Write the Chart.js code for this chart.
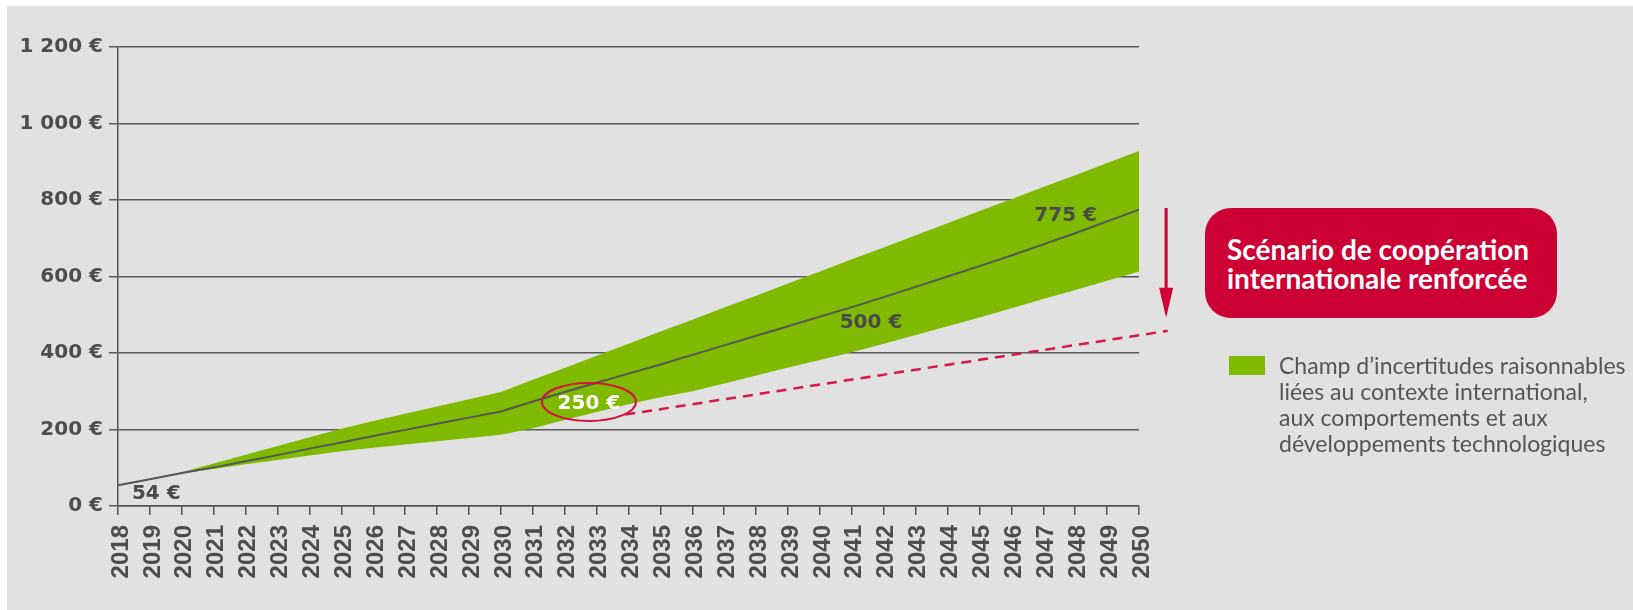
<!DOCTYPE html>
<html lang="fr">
<head>
<meta charset="utf-8">
<title>Valeur de l'action pour le climat</title>
<script src="https://cdn.jsdelivr.net/npm/chart.js@4.4.1/dist/chart.umd.min.js"></script>
<style>
  html, body { margin: 0; padding: 0; background: #ffffff; }
  #wrap { position: relative; width: 1633px; height: 610px; overflow: hidden; }
  #chart { position: absolute; left: 0; top: 0; }
  .box {
    position: absolute; left: 1205px; top: 208px; width: 352px; height: 110px;
    background: #cc0033; border-radius: 26px; box-sizing: border-box;
    padding: 27px 0 0 22px; color: #fff; font-family: Lato, "Open Sans", sans-serif;
    font-weight: bold; font-size: 28px; line-height: 29px;
  }
  .legend { position: absolute; left: 1229px; top: 352px; font-family: Lato, "Open Sans", sans-serif; }
  .legend .sw { position: absolute; left: 0; top: 4px; width: 36px; height: 19px; background: #7fba00; }
  .legend .txt { position: absolute; left: 50px; top: 0; width: 420px; color: #555; font-size: 23px; line-height: 26px; }
</style>
</head>
<body>
<div id="wrap">
  <canvas id="chart" width="1633" height="610"></canvas>
  <div class="box">Scénario de coopération<br>internationale renforcée</div>
  <div class="legend">
    <div class="sw"></div>
    <div class="txt">Champ d’incertitudes raisonnables<br>liées au contexte international,<br>aux comportements et aux<br>développements technologiques</div>
  </div>
</div>
<script>
// Années et valeurs (€ / tCO2)
const annees = [2018, 2019, 2020, 2021, 2022, 2023, 2024, 2025, 2026, 2027, 2028,
  2029, 2030, 2031, 2032, 2033, 2034, 2035, 2036, 2037, 2038, 2039, 2040, 2041,
  2042, 2043, 2044, 2045, 2046, 2047, 2048, 2049, 2050];
const valeurCentrale = [54, 70, 86, 101, 117, 133, 150, 166, 183, 199, 215,
  231, 247, 273, 298, 322, 346, 370, 395, 420, 445, 470, 495, 520,
  546, 573, 600, 627, 655, 684, 713, 744, 775];
// bande d'incertitude (à partir de 2020)
const anneesBande = annees.slice(2);
const bandeHaute = [88, 111, 134, 157, 180, 202, 222, 241, 260, 279, 298,
  330, 361, 393, 424, 456, 487, 519, 550, 582, 613, 645, 676, 708, 739,
  771, 802, 834, 865, 897, 928];
const bandeBasse = [85, 97, 109, 120, 132, 143, 152, 161, 169, 178, 186,
  203, 225, 246, 266, 284, 300, 320, 341, 362, 382, 402, 424, 447, 470,
  493, 517, 541, 565, 589, 613];
// scénario coopération renforcée (tirets)
const anneesCoop = [2033.9, 2050.9];
const valeursCoop = [239, 458];
const ticksY = [0, 200, 400, 600, 800, 1000, 1200];

const etiquettes = [
  { x: 2019.2, y: 31, text: '54 €' },
  { x: 2041.6, y: 479, text: '500 €' },
  { x: 2047.7, y: 758, text: '775 €' }
];

const police = '"DejaVu Sans", Verdana, sans-serif';
const pts = (xs, ys) => xs.map((x, i) => ({ x: x, y: ys[i] }));
const euro = v => String(v).replace(/\B(?=(\d{3})+(?!\d))/g, ' ') + ' €';

const decor = {
  id: 'decor',
  beforeDraw(chart) {
    const c = chart.ctx;
    c.save();
    c.fillStyle = '#e1e1e1';
    c.fillRect(7, 6, chart.width - 7, chart.height - 6);
    c.restore();
  },
  afterDatasetsDraw(chart) {
    const c = chart.ctx, sx = chart.scales.x, sy = chart.scales.y;
    c.save();
    // étiquettes de valeur
    c.font = 'bold 20px ' + police;
    c.fillStyle = '#4a4a4a';
    c.textAlign = 'center';
    c.textBaseline = 'middle';
    etiquettes.forEach(e => c.fillText(e.text, sx.getPixelForValue(e.x), sy.getPixelForValue(e.y)));
    // ellipse 250 €
    const ex = sx.getPixelForValue(2032.76), ey = sy.getPixelForValue(272);
    c.beginPath();
    c.ellipse(ex, ey, 47, 19, 0, 0, Math.PI * 2);
    c.strokeStyle = '#d2113f';
    c.lineWidth = 2;
    c.stroke();
    c.fillStyle = '#ffffff';
    c.fillText('250 €', ex, ey + 2);
    // flèche
    const ax = sx.getPixelForValue(2050.85);
    const a0 = sy.getPixelForValue(779), a1 = sy.getPixelForValue(492);
    c.strokeStyle = '#cc0033';
    c.fillStyle = '#cc0033';
    c.lineWidth = 3;
    c.beginPath();
    c.moveTo(ax, a0);
    c.lineTo(ax, a1 - 24);
    c.stroke();
    c.beginPath();
    c.moveTo(ax - 7, a1 - 30);
    c.lineTo(ax + 7, a1 - 30);
    c.lineTo(ax, a1);
    c.closePath();
    c.fill();
    c.restore();
  }
};

new Chart(document.getElementById('chart'), {
  type: 'line',
  data: {
    datasets: [
      { data: pts(annees, valeurCentrale), borderColor: '#555555', borderWidth: 2,
        pointRadius: 0, fill: false },
      { data: pts(anneesCoop, valeursCoop), borderColor: '#d6174a', borderWidth: 2.5,
        borderDash: [10, 7], pointRadius: 0, fill: false, clip: false },
      { data: pts(anneesBande, bandeBasse), borderWidth: 0, pointRadius: 0, fill: false },
      { data: pts(anneesBande, bandeHaute), borderWidth: 0, pointRadius: 0,
        fill: '-1', backgroundColor: '#7fba00' }
    ]
  },
  options: {
    responsive: false,
    animation: false,
    events: [],
    layout: { padding: { top: 47, right: 494, bottom: 0, left: 0 } },
    plugins: { legend: { display: false }, tooltip: { enabled: false } },
    scales: {
      x: {
        type: 'linear', min: 2018, max: 2050,
        afterFit: s => { s.height = 104; },
        grid: { drawOnChartArea: false, drawTicks: true, tickLength: 9, color: '#555', lineWidth: 1.5 },
        border: { color: '#555', width: 1.5 },
        ticks: {
          stepSize: 1, autoSkip: false, minRotation: 90, maxRotation: 90, padding: 10,
          labelOffset: 3,
          color: '#4d4d4d', font: { family: '"Liberation Sans", Arial, sans-serif', size: 24, weight: 'bold' },
          callback: v => String(v)
        }
      },
      y: {
        min: 0, max: 1200,
        afterFit: s => { s.width = 118; },
        afterBuildTicks: s => { s.ticks = ticksY.map(v => ({ value: v })); },
        grid: { color: '#5a5a5a', lineWidth: 1.5, tickLength: 9 },
        border: { color: '#555', width: 1.5 },
        ticks: {
          padding: 6, color: '#4d4d4d',
          font: { family: police, size: 20, weight: 'bold' },
          callback: v => euro(v)
        }
      }
    }
  },
  plugins: [decor]
});
</script>
</body>
</html>
